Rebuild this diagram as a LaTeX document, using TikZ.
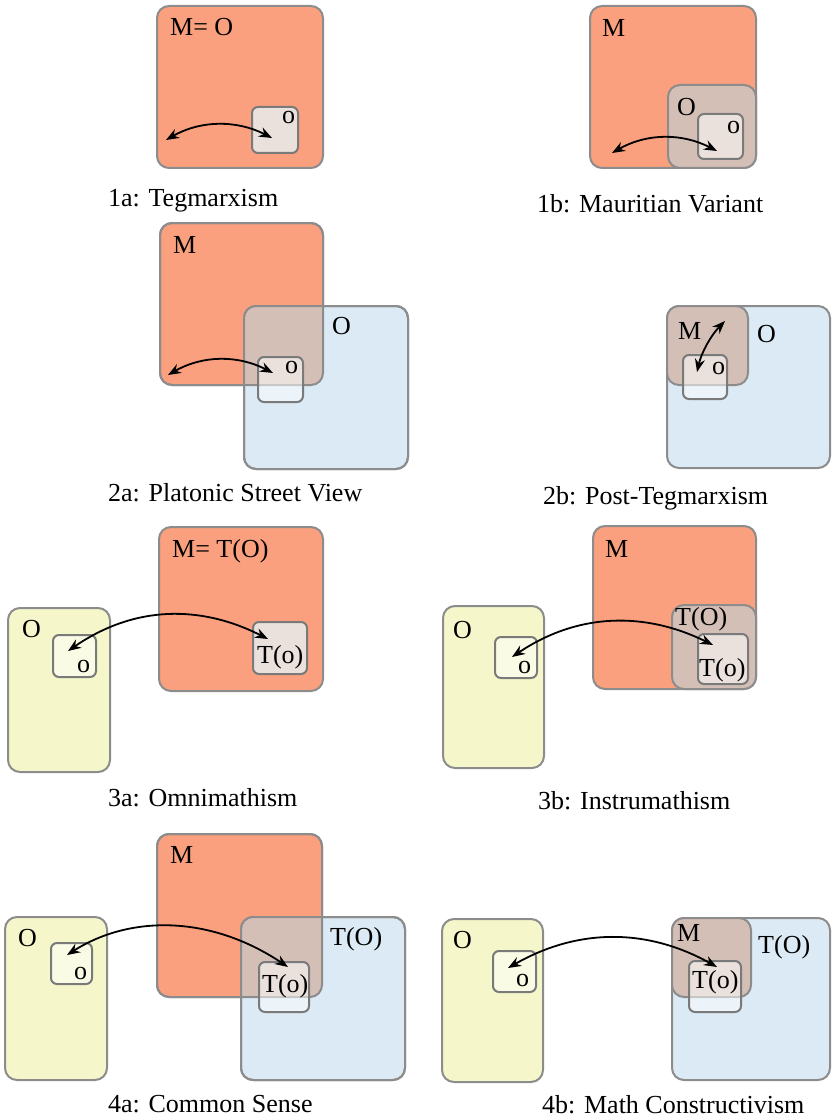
\documentclass[tikz,border=0pt]{standalone}
\usepackage{fontspec}
\setmainfont{Liberation Serif}
\usetikzlibrary{fit,arrows.meta}
\definecolor{salmon}{RGB}{250,160,126}
\definecolor{skyfill}{RGB}{219,234,244}
\definecolor{yel}{RGB}{245,247,202}
\definecolor{brownov}{RGB}{212,191,183}
\definecolor{bordergray}{RGB}{140,140,140}
\definecolor{smallgray}{RGB}{122,122,122}
\tikzset{
  big/.style={draw=bordergray, line width=2pt, rounded corners=12pt, inner sep=0pt, outer sep=0pt},
  mbox/.style={big, fill=salmon},
  obox/.style={big, fill=skyfill},
  ybox/.style={big, fill=yel},
  bbox/.style={big, fill=brownov},
  sunder/.style={fill=brownov, rounded corners=6pt, inner sep=0pt, outer sep=0pt},
  sbox/.style={draw=smallgray, line width=2pt, rounded corners=6pt, fill=white, fill opacity=0.52, inner sep=0pt, outer sep=0pt},
  outline/.style={draw=bordergray, line width=2pt, rounded corners=12pt},
  lab/.style={anchor=base west, inner sep=0pt, font=\fontsize{26}{30}\selectfont},
  captext/.style={lab},
  arr/.style={{Stealth[length=13pt,width=10pt]}-{Stealth[length=13pt,width=10pt]}, line width=1.8pt, black},
}
\begin{document}
\begin{tikzpicture}[x=1pt,y=-1pt]
\useasboundingbox (0,0) rectangle (831,1118);

% ---------- 1a ----------
\node[mbox, fit={(157,6) (323,168)}] (m1a) {};
\node[sunder, fit={(252,107) (298,153)}] (u1a) {};
\node[sbox, fit={(252,107) (298,153)}] (s1a) {};
\node[lab] (lm1a) at (170,36) {M= O};
\node[lab] (ls1a) at (282,124) {o};
\coordinate (a1al) at (166,140);
\coordinate (a1ar) at (272,138);
\draw[arr] (a1al) .. controls (201,120) and (237,120) .. (a1ar);
\node[captext] (c1a) at (108,207) {1a: Tegmarxism};

% ---------- 1b ----------
\node[mbox, fit={(590,6) (756,168)}] (m1b) {};
\node[bbox, fit={(668,85) (756,168)}] (o1b) {};
\node[sbox, fit={(698,114) (743,159)}] (s1b) {};
\node[lab] (lm1b) at (602,37) {M};
\node[lab] (lo1b) at (677,116) {O};
\node[lab] (ls1b) at (727,134) {o};
\coordinate (a1bl) at (612,153);
\coordinate (a1br) at (717,151);
\draw[arr] (a1bl) .. controls (647,133) and (682,133) .. (a1br);
\node[captext] (c1b) at (537,212) {1b: Mauritian Variant};

% ---------- 2a ----------
\node[mbox, fit={(160,223) (323,385)}] (m2a) {};
\node[obox, fit={(244,306) (408,469)}] (o2a) {};
\begin{scope}
  \clip[rounded corners=12pt] (m2a.south west) rectangle (m2a.north east);
  \fill[brownov, rounded corners=12pt] (o2a.south west) rectangle (o2a.north east);
\end{scope}
\draw[outline] (m2a.south west) rectangle (m2a.north east);
\draw[outline] (o2a.south west) rectangle (o2a.north east);
\node[sbox, fit={(258,357) (303,402)}] (s2a) {};
\node[lab] (lm2a) at (173,253) {M};
\node[lab] (lo2a) at (332,334) {O};
\node[lab] (ls2a) at (285,373) {o};
\coordinate (a2al) at (168,375);
\coordinate (a2ar) at (273,373);
\draw[arr] (a2al) .. controls (203,355) and (238,355) .. (a2ar);
\node[captext] (c2a) at (108,501) {2a: Platonic Street View};

% ---------- 2b ----------
\node[obox, fit={(667,306) (830,468)}] (o2b) {};
\node[bbox, fit={(667,306) (748,385)}] (m2b) {};
\node[sbox, fit={(683,355) (727,399)}] (s2b) {};
\node[lab] (lm2b) at (678,339) {M};
\node[lab] (lo2b) at (757,342) {O};
\node[lab] (ls2b) at (712,374) {o};
\coordinate (a2bl) at (697,372);
\coordinate (a2bu) at (725,321);
\draw[arr] (a2bl) .. controls (701.5,352.4) and (710.9,335.4) .. (a2bu);
\node[captext] (c2b) at (543,504) {2b: Post-Tegmarxism};

% ---------- 3a ----------
\node[ybox, fit={(8,608) (110,772)}] (o3a) {};
\node[sbox, fit={(53,635) (96,677)}] (s3a) {};
\node[mbox, fit={(159,527) (323,691)}] (m3a) {};
\node[sunder, fit={(253,622) (307,674)}] (u3a) {};
\node[sbox, fit={(253,622) (307,674)}] (t3a) {};
\node[lab] (lm3a) at (172,557) {M= T(O)};
\node[lab] (lo3a) at (22,637) {O};
\node[lab] (ls3a) at (77,672) {o};
\node[lab] (lt3a) at (257,663) {T(o)};
\coordinate (a3al) at (68,651);
\coordinate (a3ar) at (268,639);
\draw[arr] (a3al) .. controls (135,605) and (201,605) .. (a3ar);
\node[captext] (c3a) at (108,806) {3a: Omnimathism};

% ---------- 3b ----------
\node[ybox, fit={(443,606) (544,768)}] (o3b) {};
\node[sbox, fit={(495,637) (537,678)}] (s3b) {};
\node[mbox, fit={(593,526) (756,689)}] (m3b) {};
\node[bbox, fit={(672,605) (756,689)}] (to3b) {};
\node[sbox, fit={(698,634) (748,684)}] (t3b) {};
\node[lab] (lm3b) at (605,557) {M};
\node[lab] (lto3b) at (675,625) {T(O)};
\node[lab] (lt3b) at (699,676) {T(o)};
\node[lab] (lo3b) at (453,638) {O};
\node[lab] (ls3b) at (518,673) {o};
\coordinate (a3bl) at (512,657);
\coordinate (a3br) at (713,645);
\draw[arr] (a3bl) .. controls (579,612) and (646,612) .. (a3br);
\node[captext] (c3b) at (538,809) {3b: Instrumathism};

% ---------- 4a ----------
\node[ybox, fit={(5,917) (107,1080)}] (o4a) {};
\node[sbox, fit={(51,943) (92,984)}] (s4a) {};
\node[mbox, fit={(157,834) (322,997)}] (m4a) {};
\node[obox, fit={(241,917) (405,1080)}] (to4a) {};
\begin{scope}
  \clip[rounded corners=12pt] (m4a.south west) rectangle (m4a.north east);
  \fill[brownov, rounded corners=12pt] (to4a.south west) rectangle (to4a.north east);
\end{scope}
\draw[outline] (m4a.south west) rectangle (m4a.north east);
\draw[outline] (to4a.south west) rectangle (to4a.north east);
\node[sbox, fit={(259,962) (309,1012)}] (t4a) {};
\node[lab] (lm4a) at (170,863) {M};
\node[lab] (lto4a) at (330,945) {T(O)};
\node[lab] (lt4a) at (262,992) {T(o)};
\node[lab] (lo4a) at (18,946) {O};
\node[lab] (ls4a) at (74,979) {o};
\coordinate (a4al) at (67,955);
\coordinate (a4ar) at (288,967);
\draw[arr] (a4al) .. controls (130,915) and (210,915) .. (a4ar);
\node[captext] (c4a) at (108,1112) {4a: Common Sense};

% ---------- 4b ----------
\node[ybox, fit={(442,919) (543,1082)}] (o4b) {};
\node[sbox, fit={(493,951) (536,992)}] (s4b) {};
\node[obox, fit={(672,918) (830,1080)}] (to4b) {};
\node[bbox, fit={(672,918) (751,997)}] (m4b) {};
\node[sbox, fit={(689,961) (741,1012)}] (t4b) {};
\node[lab] (lm4b) at (677,941) {M};
\node[lab] (lto4b) at (758,953) {T(O)};
\node[lab] (lt4b) at (692,988) {T(o)};
\node[lab] (lo4b) at (453,948) {O};
\node[lab] (ls4b) at (516,986) {o};
\coordinate (a4bl) at (508,968);
\coordinate (a4br) at (717,967);
\draw[arr] (a4bl) .. controls (578,928) and (647,928) .. (a4br);
\node[captext] (c4b) at (542,1113) {4b: Math Constructivism};
\end{tikzpicture}
\end{document}
